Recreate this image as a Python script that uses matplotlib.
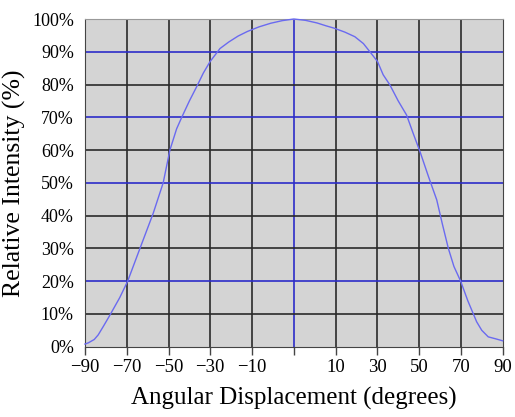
import matplotlib
matplotlib.use('Agg')
import matplotlib.pyplot as plt

# beam profile, relative intensity vs angle
angle = [-90, -88.5, -86, -84.3, -82, -79.2, -75, -71.6, -66.3, -60.6,
         -56.3, -53.4, -50.5, -48.3, -45, -41.9, -39, -36.1, -31.8, -28,
         -24, -20, -15, -10, -5, 0, 5, 10, 14, 17.4,
         22, 26.3, 30, 32.8, 36.1, 38.5, 41.4, 45, 48.6, 51.5,
         54.4, 58, 61.6, 64, 66.6, 69, 71.9, 75, 78.8, 81,
         83.8, 87, 90]
intensity = [0.8, 1.2, 2.2, 3.6, 6.3, 9.7, 15, 20, 30, 40.7,
             50, 60, 66.5, 70, 75, 79.3, 83.5, 87, 91, 93,
             94.8, 96.2, 97.6, 98.7, 99.5, 100, 99.6, 98.8, 97.9, 97.2,
             96.0, 94.6, 92.5, 90, 87, 83, 79.9, 75, 70.7, 65,
             59.5, 52, 44.8, 37.5, 30, 24.5, 20, 14, 7.6, 5,
             3, 2.4, 1.8]

x_ticks = [-90, -72, -54, -36, -18, 0, 18, 36, 54, 72, 90]
x_labels = ['\u221290', '\u221270', '\u221250', '\u221230', '\u221210', '',
            '10', '30', '50', '70', '90']
y_ticks = [0, 10, 20, 30, 40, 50, 60, 70, 80, 90, 100]
y_labels = ['%d%%' % v for v in y_ticks]
blue_rows = [20, 50, 70, 90]

plt.rcParams['font.family'] = 'Liberation Serif'

fig = plt.figure(figsize=(5.15, 4.17), dpi=100)
ax = fig.add_axes([0.165, 0.1686, 0.811, 0.7858])
ax.set_facecolor('#d4d4d4')
ax.set_xlim(-90, 90)
ax.set_ylim(0, 100)

grid_dark = '#2a2a2a'
grid_blue = '#2c2cc8'

for v in x_ticks[1:-1]:
    c = grid_blue if v == 0 else grid_dark
    ax.axvline(v, color=c, lw=1.2, zorder=1)
for v in y_ticks[1:-1]:
    c = grid_blue if v in blue_rows else grid_dark
    ax.axhline(v, color=c, lw=1.2, zorder=1)

ax.plot(angle, intensity, color='#6a6af0', lw=1.0, zorder=3, clip_on=False)

ax.set_xticks(x_ticks)
ax.set_xticklabels(x_labels, fontsize=13.5)
ax.set_yticks(y_ticks)
ax.set_yticklabels(y_labels, fontsize=13)
ax.tick_params(axis='x', length=6, width=1, color='#444444', pad=3)
ax.tick_params(axis='y', length=0, pad=8)

for side in ['left', 'bottom', 'right']:
    ax.spines[side].set_color('#444444')
ax.spines['top'].set_color('#999999')

ax.set_xlabel('Angular Displacement (degrees)', fontsize=18, labelpad=8)
ax.set_ylabel('Relative Intensity (%)', fontsize=18.5, labelpad=4)

fig.savefig('out.png', dpi=100)
